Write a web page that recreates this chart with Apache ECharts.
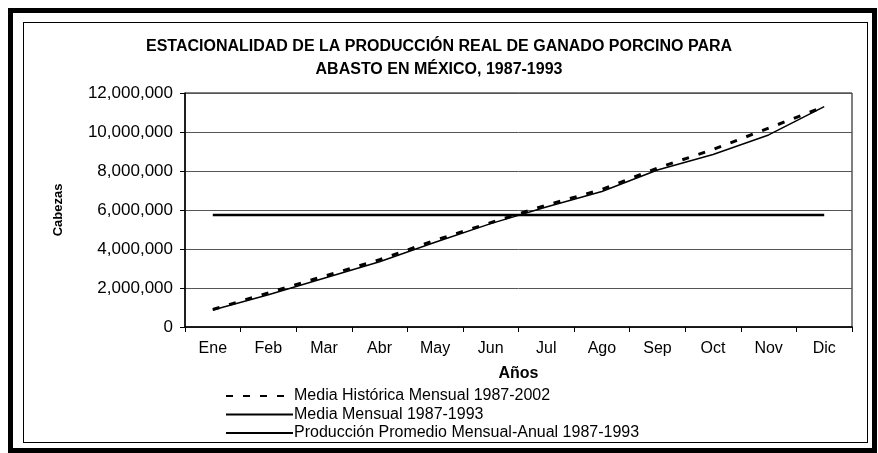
<!DOCTYPE html>
<html>
<head>
<meta charset="utf-8">
<script src="https://cdn.jsdelivr.net/npm/echarts@6/dist/echarts.min.js"></script>
<style>
  html, body { margin: 0; padding: 0; background: #fff; }
  #frame { position: absolute; left: 8px; top: 8px; width: 859px; height: 435px; border: 5px solid #000; }
  #inner { position: absolute; left: 23px; top: 22px; width: 843px; height: 419px; border: 1px solid #000; }
  #chart { position: absolute; left: 0; top: 0; width: 878px; height: 453px; }
</style>
</head>
<body>
<div id="frame"></div>
<div id="inner"></div>
<div id="chart"></div>
<script>
// meses
const meses = ['Ene', 'Feb', 'Mar', 'Abr', 'May', 'Jun', 'Jul', 'Ago', 'Sep', 'Oct', 'Nov', 'Dic']
// Media Histórica Mensual 1987-2002 (cabezas)
const mediaHistorica = [900000, 1750000, 2600000, 3450000, 4450000, 5350000, 6250000, 7050000, 8150000, 9100000, 10200000, 11300000]
// Media Mensual 1987-1993
const mediaMensual = [870000, 1650000, 2500000, 3350000, 4350000, 5300000, 6150000, 6950000, 8050000, 8850000, 9850000, 11300000]
// Producción Promedio Mensual-Anual 1987-1993
const promedioAnual = [5750000, 5750000, 5750000, 5750000, 5750000, 5750000, 5750000, 5750000, 5750000, 5750000, 5750000, 5750000]

const font = 'Liberation Sans, Arial, sans-serif'
const chart = echarts.init(document.getElementById('chart'), null, { renderer: 'canvas' })
const option = {
  animation: false,
  backgroundColor: 'transparent',
  title: {
    text: 'ESTACIONALIDAD DE LA PRODUCCIÓN REAL DE GANADO PORCINO PARA\nABASTO EN MÉXICO, 1987-1993',
    left: 'center',
    top: 30,
    textStyle: {
      fontFamily: font,
      fontSize: 16,
      fontWeight: 'bold',
      color: '#000',
      lineHeight: 23
    }
  },
  legend: {
    orient: 'vertical',
    left: 220,
    top: 383,
    itemWidth: 67,
    itemHeight: 14,
    itemGap: 2.5,
    itemStyle: { opacity: 0 },
    textStyle: { fontFamily: font, fontSize: 16, lineHeight: 16, color: '#000', padding: [0, 0, 0, -4] },
    data: ['Media Histórica Mensual 1987-2002', 'Media Mensual 1987-1993', 'Producción Promedio Mensual-Anual 1987-1993']
  },
  grid: {
    left: 185,
    right: 26,
    top: 93,
    bottom: 126,
    show: true,
    borderColor: '#000',
    borderWidth: 1,
    backgroundColor: '#fff'
  },
  xAxis: {
    type: 'category',
    data: meses,
    boundaryGap: true,
    name: 'Años',
    nameLocation: 'middle',
    nameGap: 39,
    nameTextStyle: { fontFamily: font, fontSize: 16, fontWeight: 'bold', color: '#000' },
    axisLine: { lineStyle: { color: '#000', width: 1.5 } },
    axisTick: { show: true, length: 5, inside: false, lineStyle: { color: '#000' } },
    axisLabel: { fontFamily: font, fontSize: 16, color: '#000', margin: 14 }
  },
  yAxis: {
    type: 'value',
    min: 0,
    max: 12000000,
    interval: 2000000,
    name: 'Cabezas',
    nameLocation: 'middle',
    nameGap: 120,
    nameTextStyle: { fontFamily: font, fontSize: 13, fontWeight: 'bold', color: '#000' },
    axisLine: { show: true, lineStyle: { color: '#000', width: 1.5 } },
    axisTick: { show: true, length: 5, lineStyle: { color: '#000' } },
    axisLabel: {
      fontFamily: font,
      fontSize: 17,
      color: '#000',
      margin: 12,
      formatter: v => v.toLocaleString('en-US')
    },
    splitLine: { lineStyle: { color: '#555', width: 1 } }
  },
  series: [
    {
      name: 'Media Histórica Mensual 1987-2002',
      type: 'line',
      data: mediaHistorica,
      symbol: 'none',
      z: 3,
      lineStyle: { color: '#000', width: 3, type: [7, 10] },
      itemStyle: { color: '#000' }
    },
    {
      name: 'Media Mensual 1987-1993',
      type: 'line',
      data: mediaMensual,
      symbol: 'none',
      z: 2,
      lineStyle: { color: '#000', width: 1.5 },
      itemStyle: { color: '#000' }
    },
    {
      name: 'Producción Promedio Mensual-Anual 1987-1993',
      type: 'line',
      data: promedioAnual,
      symbol: 'none',
      z: 2,
      lineStyle: { color: '#000', width: 2.5 },
      itemStyle: { color: '#000' }
    }
  ]
}
chart.setOption(option)
</script>
</body>
</html>
